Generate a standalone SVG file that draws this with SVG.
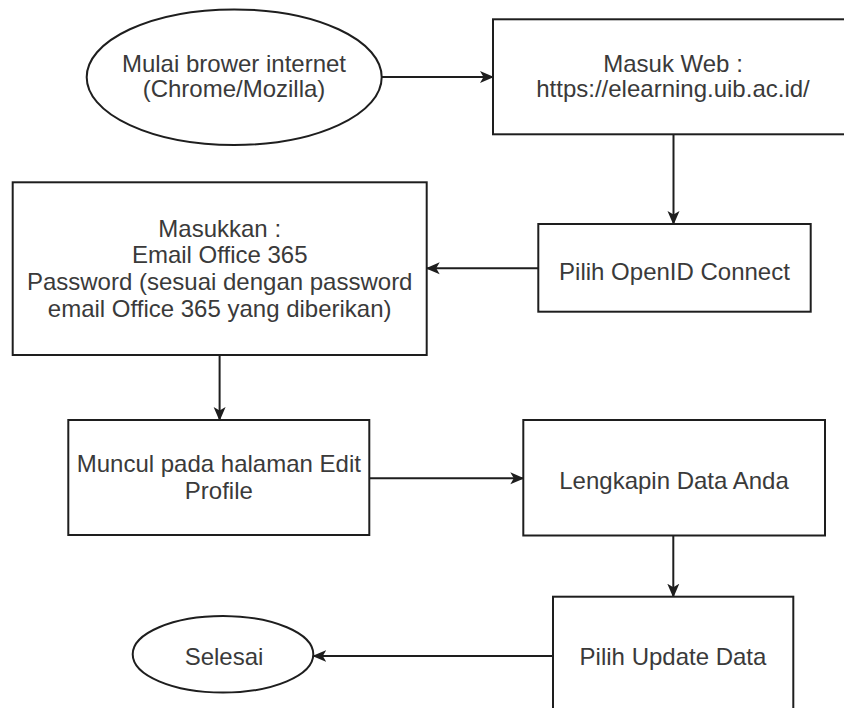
<svg xmlns="http://www.w3.org/2000/svg" width="844" height="708" viewBox="0 0 844 708">
<defs>
<style>
.shape{fill:#ffffff;stroke:#1e1e1e;stroke-width:2}
.lbl{font-family:"Liberation Sans",Arial,Helvetica,sans-serif;font-size:24px;fill:#3a3a3a;text-anchor:middle}
.edge{fill:none;stroke:#1e1e1e;stroke-width:2}
</style>
<marker id="arr" viewBox="0 0 14 14" refX="13" refY="7" markerWidth="14" markerHeight="14" markerUnits="userSpaceOnUse" orient="auto">
<path d="M0,1 L14,7 L0,13 L3.5,7 Z" fill="#1e1e1e"/>
</marker>
</defs>
<rect width="844" height="708" fill="#ffffff"/>
<g id="connectors">
<line class="edge" x1="381.7" y1="77" x2="493" y2="77" marker-end="url(#arr)"/>
<line class="edge" x1="673.5" y1="134.3" x2="673.5" y2="224" marker-end="url(#arr)"/>
<line class="edge" x1="538.3" y1="268.3" x2="426.7" y2="268.3" marker-end="url(#arr)"/>
<line class="edge" x1="219.6" y1="355" x2="219.6" y2="420" marker-end="url(#arr)"/>
<line class="edge" x1="369.3" y1="478.3" x2="523.3" y2="478.3" marker-end="url(#arr)"/>
<line class="edge" x1="673.3" y1="535.5" x2="673.3" y2="596.7" marker-end="url(#arr)"/>
<line class="edge" x1="553" y1="656" x2="313.3" y2="656" marker-end="url(#arr)"/>
</g>
<g id="start">
<ellipse class="shape" cx="234.2" cy="77.2" rx="147.5" ry="67.8"/>
<text class="lbl" x="234" y="71.5">Mulai brower internet</text>
<text class="lbl" x="234" y="96.5">(Chrome/Mozilla)</text>
</g>
<g id="masuk-web">
<rect class="shape" x="493" y="19.3" width="362" height="115"/>
<text class="lbl" x="673" y="71.5">Masuk Web :</text>
<text class="lbl" x="673" y="96.5">https://elearning.uib.ac.id/</text>
</g>
<g id="pilih-openid">
<rect class="shape" x="538.3" y="224" width="272.4" height="87.7"/>
<text class="lbl" x="674.5" y="280">Pilih OpenID Connect</text>
</g>
<g id="masukkan">
<rect class="shape" x="12.7" y="182.3" width="414" height="172.7"/>
<text class="lbl" x="219.7" y="236.5">Masukkan :</text>
<text class="lbl" x="219.7" y="263.2">Email Office 365</text>
<text class="lbl" x="219.7" y="289.9">Password (sesuai dengan password</text>
<text class="lbl" x="219.7" y="316.6">email Office 365 yang diberikan)</text>
</g>
<g id="muncul">
<rect class="shape" x="68.3" y="420" width="301" height="115"/>
<text class="lbl" x="218.8" y="471.7">Muncul pada halaman Edit</text>
<text class="lbl" x="218.8" y="498.5">Profile</text>
</g>
<g id="lengkapin">
<rect class="shape" x="523.3" y="420" width="301.7" height="115.5"/>
<text class="lbl" x="674" y="489.3">Lengkapin Data Anda</text>
</g>
<g id="pilih-update">
<rect class="shape" x="553" y="596.7" width="240.3" height="125"/>
<text class="lbl" x="673" y="665">Pilih Update Data</text>
</g>
<g id="selesai">
<ellipse class="shape" cx="223" cy="654.3" rx="90.3" ry="38.3"/>
<text class="lbl" x="224" y="665">Selesai</text>
</g>
</svg>
